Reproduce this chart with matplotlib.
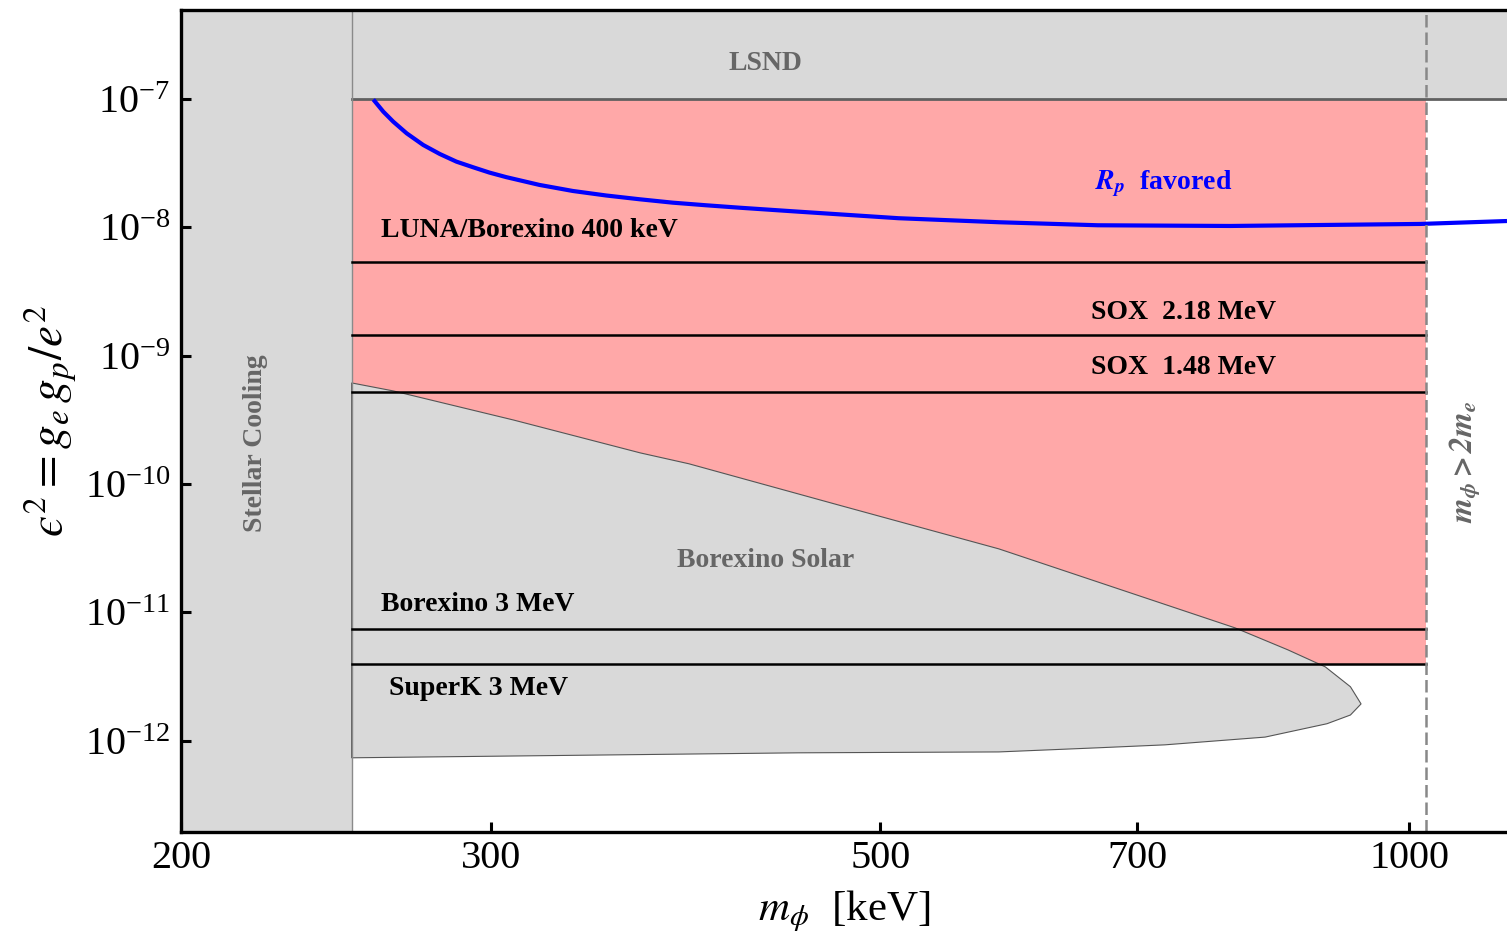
import numpy as np
import matplotlib
matplotlib.use("Agg")
import matplotlib.pyplot as plt
from matplotlib.ticker import FixedLocator, NullLocator, LogFormatterMathtext

plt.rcParams['font.family'] = ['Liberation Serif', 'DejaVu Serif']
plt.rcParams['mathtext.fontset'] = 'stix'

# mediator mass range and exclusion edges (keV)
m_min, m_max = 200.0, 1137.0
stellar_edge = 250.0
pair_threshold = 1022.0   # 2 m_e
eps_lsnd = 1e-7
eps_min, eps_max = 1.95e-13, 4.93e-7

# Borexino solar exclusion contour (upper branch, then lower branch back)
solar_m = [250, 264, 309, 365, 389, 473, 584, 796, 853, 896, 926, 939,
           926, 898, 828, 726, 665, 584, 449, 250]
solar_eps = [6.14e-10, 5.32e-10, 3.16e-10, 1.75e-10, 1.44e-10, 6.89e-11,
             3.13e-11, 7.59e-12, 5.12e-12, 3.77e-12, 2.64e-12, 1.94e-12,
             1.59e-12, 1.36e-12, 1.07e-12, 9.31e-13, 8.83e-13, 8.20e-13,
             8.07e-13, 7.38e-13]

# R_p favored curve
rp_m = [257.2, 260.6, 264.0, 268.7, 274.6, 280.6, 286.8, 293.1, 299.5, 306.2,
        319.8, 334.1, 349.1, 364.6, 380.8, 397.8, 415.5, 449, 512, 584, 665,
        791, 1015, 1137]
rp_eps = [9.9e-8, 7.96e-8, 6.66e-8, 5.40e-8, 4.38e-8, 3.73e-8, 3.25e-8,
          2.94e-8, 2.67e-8, 2.46e-8, 2.14e-8, 1.92e-8, 1.77e-8, 1.655e-8,
          1.557e-8, 1.486e-8, 1.423e-8, 1.325e-8, 1.178e-8, 1.096e-8,
          1.038e-8, 1.025e-8, 1.063e-8, 1.12e-8]

# projected sensitivities
proj_names = ["LUNA/Borexino 400 keV", "SOX  2.18 MeV", "SOX  1.48 MeV",
              "Borexino 3 MeV", "SuperK 3 MeV"]
proj_eps = [5.4e-9, 1.44e-9, 5.2e-10, 7.4e-12, 3.94e-12]
proj_label_pos = [(259.8, 9.37e-9), (659, 2.19e-9), (659, 8.03e-10),
                  (259.8, 1.15e-11), (262.5, 2.54e-12)]

grey = '#d9d9d9'
pink = '#ffa8a8'

fig = plt.figure(figsize=(15.07, 9.36), dpi=100)
ax = fig.add_axes([0.1204, 0.1111, 0.8796, 0.8782])
ax.set_xscale('log')
ax.set_yscale('log')
ax.set_xlim(m_min, m_max)
ax.set_ylim(eps_min, eps_max)

# LSND and stellar cooling exclusions
ax.fill_between([stellar_edge, m_max], eps_lsnd, eps_max, color=grey, lw=0, zorder=1)
ax.plot([stellar_edge, m_max], [eps_lsnd, eps_lsnd], color='#606060', lw=2.0, zorder=3)
ax.axvspan(m_min, stellar_edge, color=grey, lw=0, zorder=1)
ax.axvline(stellar_edge, color='#8a8a8a', lw=1.0, zorder=3)

# region probed by the projected experiments
ax.fill_between([stellar_edge, pair_threshold], min(proj_eps), eps_lsnd,
                color=pink, lw=0, zorder=1)

# Borexino solar
ax.fill(solar_m, solar_eps, facecolor=grey, edgecolor='#555555', lw=0.8, zorder=2)

for e in proj_eps:
    ax.plot([stellar_edge, pair_threshold], [e, e], color='black', lw=1.8, zorder=3)

ax.plot(rp_m, rp_eps, color='#0000ff', lw=3.0, zorder=4, solid_capstyle='butt',
        solid_joinstyle='round')
ax.axvline(pair_threshold, color='#888888', lw=1.8, ls=(0, (5, 2)), zorder=4)

lbl = dict(fontsize=20, fontweight='bold', va='center', zorder=5)
for name, (px, py) in zip(proj_names, proj_label_pos):
    ax.text(px, py, name, ha='left', color='black', **lbl)

ax.text(430, 1.9e-7, "LSND", ha='center', color='#666666', **lbl)
ax.text(430, 2.52e-11, "Borexino Solar", ha='center', color='#666666', **lbl)
ax.text(220.3, 2.09e-10, "Stellar Cooling", ha='center', rotation=90,
        color='#666666', **lbl)
ax.text(662.6, 2.18e-8, r"$\mathbfit{R_p}$  favored", ha='left', color='#0000ff', **lbl)
ax.text(1075, 1.49e-10, r"$\mathbfit{m_\phi > 2m_e}$", ha='center', rotation=90,
        color='#666666', fontsize=23, va='center', zorder=5)

# axes styling
for side in ['left', 'bottom', 'top']:
    ax.spines[side].set_linewidth(2.4)
    ax.spines[side].set_zorder(6)
ax.spines['right'].set_visible(False)

ax.xaxis.set_major_locator(FixedLocator([200, 300, 500, 700, 1000]))
ax.set_xticklabels(['200', '300', '500', '700', '1000'])
ax.xaxis.set_minor_locator(NullLocator())
ax.yaxis.set_major_locator(FixedLocator([1e-12, 1e-11, 1e-10, 1e-9, 1e-8, 1e-7]))
ax.yaxis.set_major_formatter(LogFormatterMathtext())
ax.yaxis.set_minor_locator(NullLocator())
ax.tick_params(which='major', direction='in', length=7, width=2.2,
               labelsize=29, pad=8, top=False, right=False)
ax.tick_params(axis='x', pad=6)

ax.set_xlabel(r"$m_\phi$  [keV]", fontsize=31, labelpad=8)
ax.set_ylabel("$\u03f5^2 = g_e\\, g_p/e^2$", fontsize=34, labelpad=4)

fig.savefig("out.png", dpi=100)
